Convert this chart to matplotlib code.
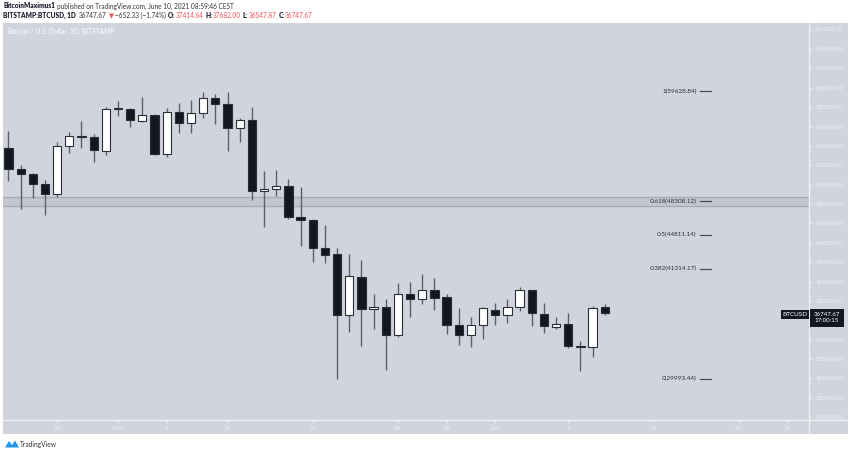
import matplotlib
matplotlib.use("Agg")
import matplotlib.pyplot as plt
from matplotlib.patches import Rectangle, Polygon

plt.rcParams['font.family'] = ['Lato', 'DejaVu Sans']

# daily candles, day index counted from April 26, 2021
days = list(range(-4, 46))
opens = [53790, 51660, 51145, 50070, 49080, 53940, 54970, 54870, 53520, 57790,
         57830, 56520, 57210, 53210, 57450, 56380, 57350, 58900, 58310, 55830,
         56690, 49390, 49600, 49870, 46630, 46390, 43490, 42800, 36600, 40460,
         37150, 37350, 34530, 38740, 38220, 39180, 38450, 35520, 34460, 35560,
         37080, 36600, 37420, 39110, 36690, 35350, 35660, 33390, 33250, 37414.64]
highs = [55520, 52080, 51200, 50525, 54380, 55450, 56520, 55240, 58030, 58590,
         57900, 59040, 57250, 57930, 58380, 58730, 59590, 59320, 59590, 56930,
         58030, 51400, 51560, 50630, 49760, 46450, 45800, 43490, 42870, 42180,
         38740, 38250, 39840, 39910, 40800, 40350, 38740, 37250, 36390, 37420,
         37770, 38150, 39420, 39180, 37800, 36390, 36730, 33910, 37490, 37682.00]
lows = [50380, 47450, 48660, 46905, 48730, 53280, 53790, 52310, 53040, 57070,
        55970, 56450, 53010, 52900, 55280, 55280, 56930, 56210, 53490, 54450,
        48460, 45620, 48800, 46420, 43630, 41970, 41900, 29900, 34810, 33360,
        35080, 30910, 34250, 36320, 37700, 37080, 34600, 33490, 33290, 34040,
        35560, 35740, 37010, 35420, 34660, 35080, 33150, 30800, 32180, 36547.87]
closes = [51590, 51100, 50040, 49080, 54040, 55030, 54870, 53560, 57760, 57860,
          56630, 57210, 53210, 57450, 56410, 57350, 58970, 58280, 55830, 56690,
          49320, 49600, 49870, 46630, 46390, 43490, 42730, 36600, 40530, 37150,
          37420, 34530, 38700, 38250, 39180, 38350, 35520, 34460, 35560, 37250,
          36600, 37420, 39150, 36730, 35380, 35620, 33390, 33210, 37290, 36747.67]

tick_days = [0, 5, 9, 14, 21, 28, 32, 36, 42, 49, 56, 60]
tick_names = ['26', 'May', '5', '10', '17', '24', '28', 'Jun', '7', '14', '21', '25']

price_ticks = list(range(26000, 64001, 2000))
top_tick = 66000      # half hidden behind the USD badge
hidden_tick = 36000   # covered by the last price box

fib_ratios = ['1', '0.618', '0.5', '0.382', '0']
fib_prices = [59628.84, 48308.12, 44811.14, 41314.17, 29993.44]
zone_low, zone_high = 47770, 48770
fib_x0, fib_x1 = 52.8, 53.7

BG = '#d1d4dc'
LIGHT = '#eef0f4'
DARK = '#131722'
WICK = '#5d6069'
RED = '#ef5350'

W, H = 850, 454
fig = plt.figure(figsize=(8.5, 4.54), dpi=100)
fig.patch.set_facecolor('white')


def fx(px):
    return px / W


def fy(py):
    return 1 - py / H


# chart panel background
panel = Rectangle((fx(3), fy(434)), fx(845), (434 - 23) / H,
                  transform=fig.transFigure, facecolor=BG,
                  edgecolor='none', zorder=-5)
fig.patches.append(panel)

ax = fig.add_axes([fx(3), fy(420), fx(806), (420 - 23) / H])
ax.set_zorder(2)
ax.set_facecolor(BG)
ax.set_xlim(-4.45, 61.78)
ax.set_ylim(25713, 66683)

# candles
bw = 0.68
for d, o, h, l, c in zip(days, opens, highs, lows, closes):
    ax.plot([d, d], [l, h], color=WICK, lw=1.0, zorder=2, solid_capstyle='butt')
    fc = 'white' if c >= o else DARK
    lo, hi = min(o, c), max(o, c)
    ax.add_patch(Rectangle((d - bw / 2, lo), bw, max(hi - lo, 60),
                           facecolor=fc, edgecolor='#2a2e39', lw=0.8, zorder=3))

# fib zone and levels
ax.axhspan(zone_low, zone_high, facecolor='#c4c7cf', edgecolor='none', zorder=1)
ax.axhline(zone_low, color='#a9acb4', lw=1.0, zorder=1)
ax.axhline(zone_high, color='#a9acb4', lw=1.0, zorder=1)
for r, p in zip(fib_ratios, fib_prices):
    ax.plot([fib_x0, fib_x1], [p, p], color='#4a4d55', lw=0.9, zorder=4)
    ax.text(fib_x0 - 0.25, p, '%s(%.2f)' % (r, p), ha='right', va='center',
            fontsize=4.6, color='#2a2e39', zorder=4)

# axes styling
for s in ['top', 'left']:
    ax.spines[s].set_visible(False)
ax.spines['right'].set_color(LIGHT)
ax.spines['bottom'].set_color(LIGHT)
ax.spines['right'].set_linewidth(1.0)
ax.spines['bottom'].set_linewidth(1.0)

ax.yaxis.tick_right()
ax.set_yticks(price_ticks + [top_tick])
ax.set_yticklabels(['' if p == hidden_tick else '%.2f' % p for p in price_ticks] + [''])
ax.tick_params(axis='y', colors=LIGHT, labelsize=4.6, length=2.5, width=0.6, pad=2.5)
ax.set_xticks(tick_days)
ax.set_xticklabels(tick_names)
ax.tick_params(axis='x', colors=LIGHT, labelsize=4.6, length=2.5, width=0.6, pad=1.5)

# extend axis separators across the price scale
fig.add_artist(plt.Line2D([fx(809), fx(848)], [fy(420), fy(420)], color=LIGHT,
                          lw=1.0, transform=fig.transFigure, zorder=3))
fig.add_artist(plt.Line2D([fx(809), fx(809)], [fy(420), fy(434)], color=LIGHT,
                          lw=1.0, transform=fig.transFigure, zorder=3))

# top tick label, partly covered by the USD badge
ytop = ax.transData.transform((0, top_tick))[1]
fig.text(fx(815), ytop / H, str(top_tick)[:2], ha='left', va='center',
         fontsize=4.6, color=LIGHT, zorder=6)
fig.text(fx(829), ytop / H, 'USD', ha='center', va='center', fontsize=4.6,
         color=LIGHT, zorder=6)
fig.text(fx(842), ytop / H, '0', ha='right', va='center', fontsize=4.6,
         color=LIGHT, zorder=6)

# last price labels
fig.text(fx(795), fy(314.5), 'BTCUSD', ha='center', va='center', fontsize=4.6,
         color='white', zorder=6,
         bbox=dict(boxstyle='square,pad=0.25', facecolor=DARK, edgecolor='none'))
fig.patches.append(Rectangle((fx(810), fy(327)), fx(34), 18 / H,
                             transform=fig.transFigure, facecolor=DARK,
                             edgecolor='none', zorder=5))
fig.text(fx(827), fy(317.8), '36747.67\n17:00:15', ha='center', va='center',
         fontsize=4.4, color='white', zorder=6, linespacing=1.25)

# chart title
fig.text(fx(8), fy(31.5), 'Bitcoin / U.S. Dollar, 1D, BITSTAMP', ha='left',
         va='center', fontsize=4.8, color='#f4f5f8', fontweight='bold', zorder=6)

# header, pieces placed one after another
renderer = fig.canvas.get_renderer()


def chain(x, y, pieces, fs=4.7):
    for s, color, weight, gap in pieces:
        t = fig.text(fx(x), fy(y), s, fontsize=fs, color=color,
                     fontweight=weight, va='center')
        bb = t.get_window_extent(renderer)
        x = bb.x1 + gap


chain(3, 6, [('BitcoinMaximus1', '#1e222d', 'heavy', 2.0),
             ('published on TradingView.com, June 10, 2021 08:59:46 CEST',
              '#333', 'normal', 0)])
chain(3, 15.5, [('BITSTAMP:BTCUSD, 1D', '#1e222d', 'heavy', 3.0),
                ('36747.67', '#333', 'normal', 2.0),
                ('▼', RED, 'normal', 1.5),
                ('\u2212652.33 (\u22121.74%)', '#333', 'normal', 2.0),
                ('O:', '#1e222d', 'heavy', 0.5), ('37414.64', RED, 'normal', 2.0),
                ('H:', '#1e222d', 'heavy', 0.5), ('37682.00', RED, 'normal', 2.0),
                ('L:', '#1e222d', 'heavy', 0.5), ('36547.87', RED, 'normal', 2.0),
                ('C:', '#1e222d', 'heavy', 0.5), ('36747.67', RED, 'normal', 0)])

# TradingView logo
fig.patches.append(Polygon([(fx(5), fy(447.5)), (fx(9), fy(441)), (fx(12), fy(445)),
                            (fx(15), fy(440.5)), (fx(19), fy(447.5))],
                           closed=True, transform=fig.transFigure,
                           facecolor='#2196f3', edgecolor='none'))
fig.text(fx(20), fy(444.5), 'TradingView', fontsize=4.8, color='#333', va='center')

fig.savefig('out.png', dpi=100, facecolor='white')
